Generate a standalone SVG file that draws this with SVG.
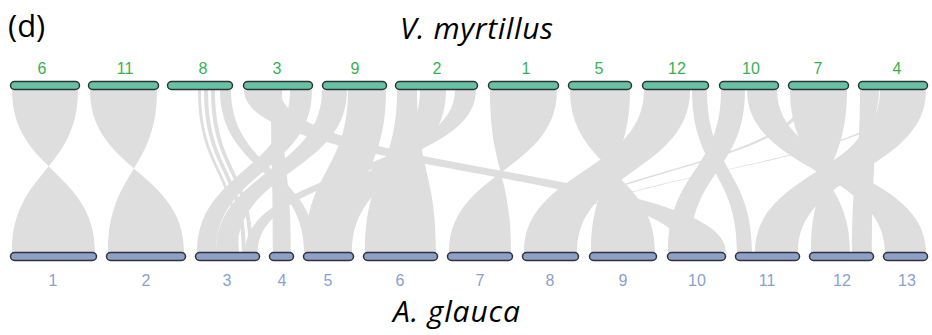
<svg xmlns="http://www.w3.org/2000/svg" width="932" height="335" viewBox="0 0 932 335">
<style>
.rb{fill:#dedede;stroke:none}
.tb{fill:#66c2a5;stroke:#333;stroke-width:1.5}
.bb{fill:#8da0cb;stroke:#333;stroke-width:1.5}
.tl{font-family:"Liberation Sans",Arial,sans-serif;font-size:16px;fill:#36b34f;text-anchor:middle}
.bl{font-family:"Liberation Sans",Arial,sans-serif;font-size:16px;fill:#8c9fd0;text-anchor:middle}
.ti{font-family:"Open Sans",sans-serif;font-style:italic;font-size:30px;fill:#000}
</style>
<rect width="932" height="335" fill="#fff"/>
<g id="connectors">
<path class="rb" d="M12 90 C12 171 95 171 95 252 L12 252 C12 171 78 171 78 90 Z"/>
<path class="rb" d="M90 90 C90 171 184 171 184 252 L108 252 C108 171 157 171 157 90 Z"/>
<path class="rb" d="M198 90 C198 171 236 171 236 252 L239 252 C239 171 201 171 201 90 Z"/>
<path class="rb" d="M204 90 C204 171 242 171 242 252 L246 252 C246 171 208 171 208 90 Z"/>
<path class="rb" d="M211 90 C211 171 249 171 249 252 L253 252 C253 171 215 171 215 90 Z"/>
<path class="rb" d="M220 90 C220 171 304 171 304 252 L316 252 C316 171 231 171 231 90 Z"/>
<path class="rb" d="M271 90 C271 171 273 171 273 252 L291 252 C291 171 282 171 282 90 Z"/>
<path class="rb" d="M290 90 C290 171 197 171 197 252 L216 252 C216 171 312 171 312 90 Z"/>
<path class="rb" d="M322 90 C322 171 216 171 216 252 L237 252 C237 171 347 171 347 90 Z"/>
<path class="rb" d="M244 90 C244 171 684 171 684 252 L726 252 C726 171 280 171 280 90 Z"/>
<path class="rb" d="M348 90 C348 171 305 171 305 252 L352 252 C352 171 386 171 386 90 Z"/>
<path class="rb" d="M397 90 C397 171 365 171 365 252 L436 252 C436 171 417 171 417 90 Z"/>
<path class="rb" d="M420 90 C420 171 320 171 320 252 L352 252 C352 171 446 171 446 90 Z"/>
<path class="rb" d="M455 90 C455 171 245 171 245 252 L258 252 C258 171 476 171 476 90 Z"/>
<path class="rb" d="M490 90 C490 171 511 171 511 252 L449 252 C449 171 557 171 557 90 Z"/>
<path class="rb" d="M570 90 C570 171 655 171 655 252 L591 252 C591 171 630 171 630 90 Z"/>
<path class="rb" d="M644 90 C644 171 524 171 524 252 L577 252 C577 171 690 171 690 90 Z"/>
<path class="rb" d="M692 90 C692 171 737 171 737 252 L752 252 C752 171 707 171 707 90 Z"/>
<path class="rb" d="M721 90 C721 171 668 171 668 252 L690 252 C690 171 745 171 745 90 Z"/>
<path class="rb" d="M747 90 C747 171 885 171 885 252 L926 252 C926 171 777 171 777 90 Z"/>
<path class="rb" d="M790 90 C790 171 850 171 850 252 L811 252 C811 171 847 171 847 90 Z"/>
<path class="rb" d="M860 90 C860 171 852 171 852 252 L872 252 C872 171 876 171 876 90 Z"/>
<path class="rb" d="M880 90 C880 171 755 171 755 252 L798 252 C798 171 926 171 926 90 Z"/>
<path class="rb" d="M805 90 C805 171 530 171 530 252 L535 252 C535 171 810 171 810 90 Z"/>
<path class="rb" d="M903 90 C903 171 535 171 535 252 L539 252 C539 171 907 171 907 90 Z"/>
<path class="rb" d="M875 90 C875 171 770 171 770 252 L774 252 C774 171 879 171 879 90 Z"/>
</g>
<g id="top-chromosomes">
<g id="t6"><rect class="tb" x="10.5" y="81.5" width="69" height="8" rx="4"/><text class="tl" x="42" y="74">6</text></g>
<g id="t11"><rect class="tb" x="88.5" y="81.5" width="70" height="8" rx="4"/><text class="tl" x="125" y="74">11</text></g>
<g id="t8"><rect class="tb" x="167.5" y="81.5" width="65" height="8" rx="4"/><text class="tl" x="203" y="74">8</text></g>
<g id="t3"><rect class="tb" x="243.5" y="81.5" width="69" height="8" rx="4"/><text class="tl" x="277" y="74">3</text></g>
<g id="t9"><rect class="tb" x="322.5" y="81.5" width="64" height="8" rx="4"/><text class="tl" x="355" y="74">9</text></g>
<g id="t2"><rect class="tb" x="395.5" y="81.5" width="82" height="8" rx="4"/><text class="tl" x="437" y="74">2</text></g>
<g id="t1"><rect class="tb" x="488.5" y="81.5" width="70" height="8" rx="4"/><text class="tl" x="526" y="74">1</text></g>
<g id="t5"><rect class="tb" x="568.5" y="81.5" width="63" height="8" rx="4"/><text class="tl" x="599" y="74">5</text></g>
<g id="t12"><rect class="tb" x="642.5" y="81.5" width="66" height="8" rx="4"/><text class="tl" x="677" y="74">12</text></g>
<g id="t10"><rect class="tb" x="719.5" y="81.5" width="59" height="8" rx="4"/><text class="tl" x="751" y="74">10</text></g>
<g id="t7"><rect class="tb" x="788.5" y="81.5" width="60" height="8" rx="4"/><text class="tl" x="818" y="74">7</text></g>
<g id="t4"><rect class="tb" x="858.5" y="81.5" width="69" height="8" rx="4"/><text class="tl" x="897" y="74">4</text></g>
</g>
<g id="bottom-chromosomes">
<g id="b1"><rect class="bb" x="10.5" y="252.5" width="86" height="8" rx="4"/><text class="bl" x="53" y="286">1</text></g>
<g id="b2"><rect class="bb" x="106.5" y="252.5" width="79" height="8" rx="4"/><text class="bl" x="146" y="286">2</text></g>
<g id="b3"><rect class="bb" x="195.5" y="252.5" width="64" height="8" rx="4"/><text class="bl" x="227" y="286">3</text></g>
<g id="b4"><rect class="bb" x="269.5" y="252.5" width="24" height="8" rx="4"/><text class="bl" x="282" y="286">4</text></g>
<g id="b5"><rect class="bb" x="303.5" y="252.5" width="50" height="8" rx="4"/><text class="bl" x="328" y="286">5</text></g>
<g id="b6"><rect class="bb" x="363.5" y="252.5" width="74" height="8" rx="4"/><text class="bl" x="400" y="286">6</text></g>
<g id="b7"><rect class="bb" x="447.5" y="252.5" width="65" height="8" rx="4"/><text class="bl" x="480" y="286">7</text></g>
<g id="b8"><rect class="bb" x="522.5" y="252.5" width="56" height="8" rx="4"/><text class="bl" x="550" y="286">8</text></g>
<g id="b9"><rect class="bb" x="589.5" y="252.5" width="67" height="8" rx="4"/><text class="bl" x="623" y="286">9</text></g>
<g id="b10"><rect class="bb" x="667.5" y="252.5" width="58" height="8" rx="4"/><text class="bl" x="697" y="286">10</text></g>
<g id="b11"><rect class="bb" x="735.5" y="252.5" width="64" height="8" rx="4"/><text class="bl" x="767" y="286">11</text></g>
<g id="b12"><rect class="bb" x="809.5" y="252.5" width="64" height="8" rx="4"/><text class="bl" x="842" y="286">12</text></g>
<g id="b13"><rect class="bb" x="883.5" y="252.5" width="44" height="8" rx="4"/><text class="bl" x="907" y="286">13</text></g>
</g>
<text x="8" y="37" font-family="Open Sans, sans-serif" font-size="31" fill="#000">(d)</text>
<text class="ti" x="400" y="39" textLength="153">V. myrtillus</text>
<text class="ti" x="393" y="322" textLength="127">A. glauca</text>
</svg>
